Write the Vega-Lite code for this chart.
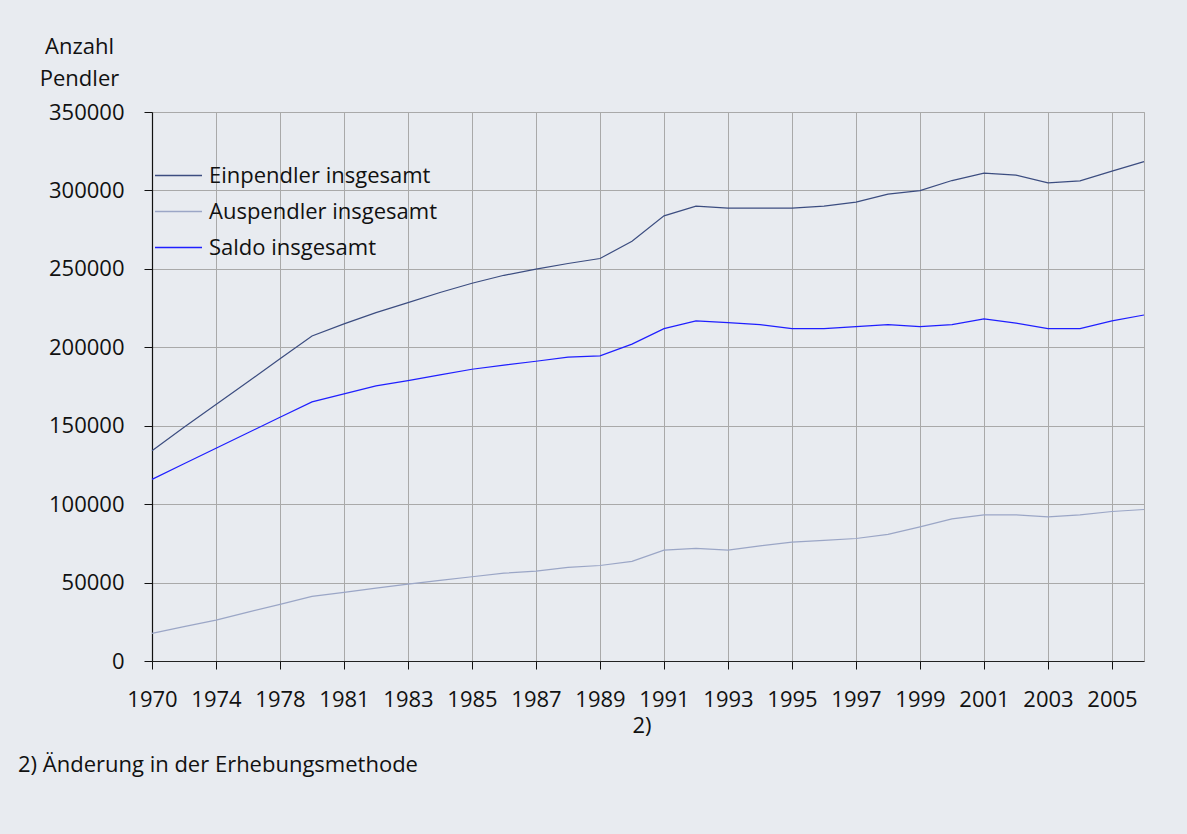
{
  "$schema": "https://vega.github.io/schema/vega-lite/v6.json",
  "autosize": "none",
  "width": 992,
  "height": 549,
  "padding": {"left": 152, "top": 112, "right": 43, "bottom": 173},
  "background": "#e8ebf0",
  "config": {
    "font": "Open Sans",
    "view": {"stroke": "#a9a9a9", "strokeWidth": 1},
    "axis": {"labelFont": "Open Sans", "titleFont": "Open Sans", "labelColor": "#111111", "titleColor": "#111111"}
  },
  "title": {
    "text": "2) Änderung in der Erhebungsmethode",
    "orient": "bottom",
    "anchor": "start",
    "frame": "group",
    "dx": -134,
    "offset": 19,
    "fontSize": 22,
    "fontWeight": "normal",
    "font": "Open Sans",
    "color": "#111111"
  },
  "data": {
    "values": [
      {"year": 1970, "series": "Einpendler insgesamt", "value": 134000},
      {"year": 1972, "series": "Einpendler insgesamt", "value": 149000},
      {"year": 1974, "series": "Einpendler insgesamt", "value": 163500},
      {"year": 1976, "series": "Einpendler insgesamt", "value": 178000},
      {"year": 1978, "series": "Einpendler insgesamt", "value": 192700},
      {"year": 1980, "series": "Einpendler insgesamt", "value": 207200},
      {"year": 1981, "series": "Einpendler insgesamt", "value": 214900},
      {"year": 1982, "series": "Einpendler insgesamt", "value": 222100},
      {"year": 1983, "series": "Einpendler insgesamt", "value": 228500},
      {"year": 1984, "series": "Einpendler insgesamt", "value": 234900},
      {"year": 1985, "series": "Einpendler insgesamt", "value": 240800},
      {"year": 1986, "series": "Einpendler insgesamt", "value": 245900},
      {"year": 1987, "series": "Einpendler insgesamt", "value": 249800},
      {"year": 1988, "series": "Einpendler insgesamt", "value": 253400},
      {"year": 1989, "series": "Einpendler insgesamt", "value": 256600},
      {"year": 1990, "series": "Einpendler insgesamt", "value": 267600},
      {"year": 1991, "series": "Einpendler insgesamt", "value": 283800},
      {"year": 1992, "series": "Einpendler insgesamt", "value": 290000},
      {"year": 1993, "series": "Einpendler insgesamt", "value": 288700},
      {"year": 1994, "series": "Einpendler insgesamt", "value": 288700},
      {"year": 1995, "series": "Einpendler insgesamt", "value": 288700},
      {"year": 1996, "series": "Einpendler insgesamt", "value": 290000},
      {"year": 1997, "series": "Einpendler insgesamt", "value": 292500},
      {"year": 1998, "series": "Einpendler insgesamt", "value": 297600},
      {"year": 1999, "series": "Einpendler insgesamt", "value": 299900},
      {"year": 2000, "series": "Einpendler insgesamt", "value": 306300},
      {"year": 2001, "series": "Einpendler insgesamt", "value": 311000},
      {"year": 2002, "series": "Einpendler insgesamt", "value": 309700},
      {"year": 2003, "series": "Einpendler insgesamt", "value": 304800},
      {"year": 2004, "series": "Einpendler insgesamt", "value": 306100},
      {"year": 2005, "series": "Einpendler insgesamt", "value": 312300},
      {"year": 2006, "series": "Einpendler insgesamt", "value": 318400},
      {"year": 1970, "series": "Auspendler insgesamt", "value": 17600},
      {"year": 1972, "series": "Auspendler insgesamt", "value": 21900},
      {"year": 1974, "series": "Auspendler insgesamt", "value": 26100},
      {"year": 1976, "series": "Auspendler insgesamt", "value": 31200},
      {"year": 1978, "series": "Auspendler insgesamt", "value": 36100},
      {"year": 1980, "series": "Auspendler insgesamt", "value": 41200},
      {"year": 1981, "series": "Auspendler insgesamt", "value": 43700},
      {"year": 1982, "series": "Auspendler insgesamt", "value": 46500},
      {"year": 1983, "series": "Auspendler insgesamt", "value": 49000},
      {"year": 1984, "series": "Auspendler insgesamt", "value": 51400},
      {"year": 1985, "series": "Auspendler insgesamt", "value": 53700},
      {"year": 1986, "series": "Auspendler insgesamt", "value": 56000},
      {"year": 1987, "series": "Auspendler insgesamt", "value": 57300},
      {"year": 1988, "series": "Auspendler insgesamt", "value": 59700},
      {"year": 1989, "series": "Auspendler insgesamt", "value": 60900},
      {"year": 1990, "series": "Auspendler insgesamt", "value": 63500},
      {"year": 1991, "series": "Auspendler insgesamt", "value": 70700},
      {"year": 1992, "series": "Auspendler insgesamt", "value": 71800},
      {"year": 1993, "series": "Auspendler insgesamt", "value": 70700},
      {"year": 1994, "series": "Auspendler insgesamt", "value": 73400},
      {"year": 1995, "series": "Auspendler insgesamt", "value": 75800},
      {"year": 1996, "series": "Auspendler insgesamt", "value": 76900},
      {"year": 1997, "series": "Auspendler insgesamt", "value": 78100},
      {"year": 1998, "series": "Auspendler insgesamt", "value": 80700},
      {"year": 1999, "series": "Auspendler insgesamt", "value": 85500},
      {"year": 2000, "series": "Auspendler insgesamt", "value": 90600},
      {"year": 2001, "series": "Auspendler insgesamt", "value": 93200},
      {"year": 2002, "series": "Auspendler insgesamt", "value": 93200},
      {"year": 2003, "series": "Auspendler insgesamt", "value": 91900},
      {"year": 2004, "series": "Auspendler insgesamt", "value": 93200},
      {"year": 2005, "series": "Auspendler insgesamt", "value": 95300},
      {"year": 2006, "series": "Auspendler insgesamt", "value": 96600},
      {"year": 1970, "series": "Saldo insgesamt", "value": 115800},
      {"year": 1972, "series": "Saldo insgesamt", "value": 125700},
      {"year": 1974, "series": "Saldo insgesamt", "value": 135600},
      {"year": 1976, "series": "Saldo insgesamt", "value": 145500},
      {"year": 1978, "series": "Saldo insgesamt", "value": 155400},
      {"year": 1980, "series": "Saldo insgesamt", "value": 165200},
      {"year": 1981, "series": "Saldo insgesamt", "value": 170300},
      {"year": 1982, "series": "Saldo insgesamt", "value": 175400},
      {"year": 1983, "series": "Saldo insgesamt", "value": 178700},
      {"year": 1984, "series": "Saldo insgesamt", "value": 182400},
      {"year": 1985, "series": "Saldo insgesamt", "value": 186000},
      {"year": 1986, "series": "Saldo insgesamt", "value": 188600},
      {"year": 1987, "series": "Saldo insgesamt", "value": 191100},
      {"year": 1988, "series": "Saldo insgesamt", "value": 193700},
      {"year": 1989, "series": "Saldo insgesamt", "value": 194500},
      {"year": 1990, "series": "Saldo insgesamt", "value": 202000},
      {"year": 1991, "series": "Saldo insgesamt", "value": 211900},
      {"year": 1992, "series": "Saldo insgesamt", "value": 216800},
      {"year": 1993, "series": "Saldo insgesamt", "value": 215700},
      {"year": 1994, "series": "Saldo insgesamt", "value": 214500},
      {"year": 1995, "series": "Saldo insgesamt", "value": 211900},
      {"year": 1996, "series": "Saldo insgesamt", "value": 211900},
      {"year": 1997, "series": "Saldo insgesamt", "value": 213200},
      {"year": 1998, "series": "Saldo insgesamt", "value": 214500},
      {"year": 1999, "series": "Saldo insgesamt", "value": 213200},
      {"year": 2000, "series": "Saldo insgesamt", "value": 214500},
      {"year": 2001, "series": "Saldo insgesamt", "value": 218100},
      {"year": 2002, "series": "Saldo insgesamt", "value": 215400},
      {"year": 2003, "series": "Saldo insgesamt", "value": 211900},
      {"year": 2004, "series": "Saldo insgesamt", "value": 211900},
      {"year": 2005, "series": "Saldo insgesamt", "value": 216800},
      {"year": 2006, "series": "Saldo insgesamt", "value": 220600}
    ]
  },
  "mark": {"type": "line", "strokeWidth": 1.2, "interpolate": "linear"},
  "encoding": {
    "x": {
      "field": "year",
      "type": "ordinal",
      "scale": {"type": "point", "padding": 0},
      "axis": {
        "title": null,
        "labelAngle": 0,
        "values": [1970, 1974, 1978, 1981, 1983, 1985, 1987, 1989, 1990, 1991, 1993, 1995, 1997, 1999, 2001, 2003, 2005],
        "labelExpr": "datum.value == 1990 ? ['', '2)'] : datum.label",
        "labelAlign": {"condition": {"test": "datum.value == 1990", "value": "left"}, "value": "center"},
        "labelOverlap": false,
        "labelFontSize": 22,
        "labelPadding": 20,
        "labelLineHeight": 26,
        "labelBaseline": "top",
        "tickSize": 8,
        "tickColor": "#111111",
        "tickOpacity": {"condition": {"test": "datum.value == 1990", "value": 0}, "value": 1},
        "domainColor": "#222222",
        "domainWidth": 1.2,
        "grid": true,
        "gridColor": "#a9a9a9",
        "gridWidth": 1,
        "gridOpacity": {"condition": {"test": "datum.value == 1990", "value": 0}, "value": 1}
      }
    },
    "y": {
      "field": "value",
      "type": "quantitative",
      "scale": {"domain": [0, 350000], "nice": false},
      "axis": {
        "values": [0, 50000, 100000, 150000, 200000, 250000, 300000, 350000],
        "format": "d",
        "title": ["Anzahl", "Pendler"],
        "titleAngle": 0,
        "titleAlign": "center",
        "titleBaseline": "alphabetic",
        "titleX": -73,
        "titleY": -59,
        "titleLineHeight": 32,
        "titleFontSize": 22,
        "titleFontWeight": "normal",
        "labelFontSize": 22,
        "labelPadding": 20,
        "tickSize": 8,
        "tickColor": "#111111",
        "domainColor": "#111111",
        "domainWidth": 1.2,
        "grid": true,
        "gridColor": "#a9a9a9",
        "gridWidth": 1
      }
    },
    "color": {
      "field": "series",
      "type": "nominal",
      "scale": {
        "domain": ["Einpendler insgesamt", "Auspendler insgesamt", "Saldo insgesamt"],
        "range": ["#3c4d80", "#9ba6c6", "#1f1fff"]
      },
      "legend": {
        "title": null,
        "orient": "none",
        "legendX": 2,
        "legendY": 39,
        "symbolType": "stroke",
        "symbolSize": 2209,
        "symbolStrokeWidth": 1.3,
        "labelFontSize": 22,
        "labelFont": "Open Sans",
        "labelColor": "#111111",
        "labelOffset": 6,
        "labelLimit": 0,
        "rowPadding": -2
      }
    }
  }
}
